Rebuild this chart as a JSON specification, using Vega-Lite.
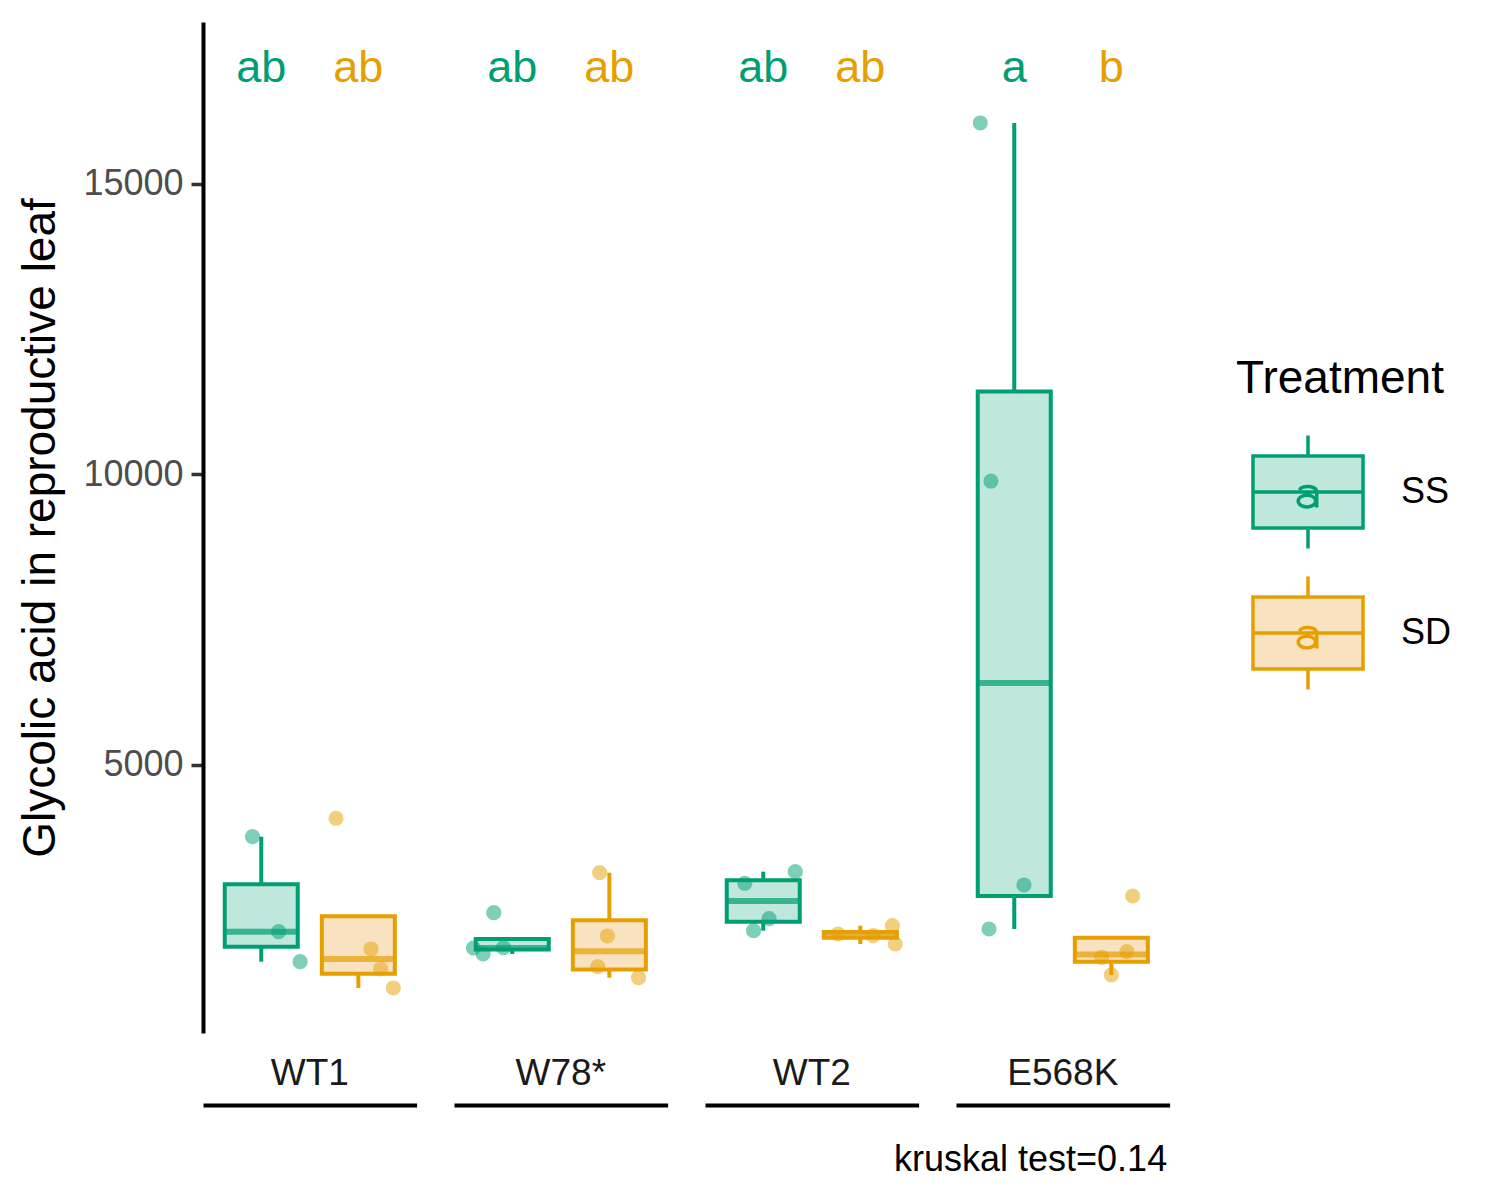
{
  "$schema": "https://vega.github.io/schema/vega-lite/v6.json",
  "padding": {"left": 17, "top": 22, "right": 5, "bottom": 5},
  "background": "white",
  "data": {
    "values": [
      {"Genotype": "WT1", "Treatment": "SS", "kind": "box", "lower": 1615, "q1": 1873, "median": 2131, "q3": 2948, "upper": 3766, "letter": "ab"},
      {"Genotype": "WT1", "Treatment": "SD", "kind": "box", "lower": 1162, "q1": 1407, "median": 1661, "q3": 2395, "upper": 2395, "letter": "ab"},
      {"Genotype": "W78*", "Treatment": "SS", "kind": "box", "lower": 1747, "q1": 1824, "median": 1852, "q3": 2006, "upper": 2006, "letter": "ab"},
      {"Genotype": "W78*", "Treatment": "SD", "kind": "box", "lower": 1339, "q1": 1481, "median": 1793, "q3": 2329, "upper": 3146, "letter": "ab"},
      {"Genotype": "WT2", "Treatment": "SS", "kind": "box", "lower": 2148, "q1": 2303, "median": 2660, "q3": 3014, "upper": 3164, "letter": "ab"},
      {"Genotype": "WT2", "Treatment": "SD", "kind": "box", "lower": 1919, "q1": 2026, "median": 2077, "q3": 2127, "upper": 2234, "letter": "ab"},
      {"Genotype": "E568K", "Treatment": "SS", "kind": "box", "lower": 2177, "q1": 2745, "median": 6411, "q3": 11428, "upper": 16050, "letter": "a"},
      {"Genotype": "E568K", "Treatment": "SD", "kind": "box", "lower": 1386, "q1": 1614, "median": 1738, "q3": 2026, "upper": 2026, "letter": "b"},
      {"Genotype": "WT1", "Treatment": "SS", "kind": "point", "value": 3766, "jitter": -0.09},
      {"Genotype": "WT1", "Treatment": "SS", "kind": "point", "value": 2131, "jitter": 0.18},
      {"Genotype": "WT1", "Treatment": "SS", "kind": "point", "value": 1615, "jitter": 0.40},
      {"Genotype": "WT1", "Treatment": "SD", "kind": "point", "value": 4083, "jitter": -0.23},
      {"Genotype": "WT1", "Treatment": "SD", "kind": "point", "value": 1833, "jitter": 0.13},
      {"Genotype": "WT1", "Treatment": "SD", "kind": "point", "value": 1489, "jitter": 0.23},
      {"Genotype": "WT1", "Treatment": "SD", "kind": "point", "value": 1162, "jitter": 0.36},
      {"Genotype": "W78*", "Treatment": "SS", "kind": "point", "value": 1850, "jitter": -0.40},
      {"Genotype": "W78*", "Treatment": "SS", "kind": "point", "value": 1747, "jitter": -0.30},
      {"Genotype": "W78*", "Treatment": "SS", "kind": "point", "value": 1855, "jitter": -0.09},
      {"Genotype": "W78*", "Treatment": "SS", "kind": "point", "value": 2458, "jitter": -0.19},
      {"Genotype": "W78*", "Treatment": "SD", "kind": "point", "value": 3146, "jitter": -0.10},
      {"Genotype": "W78*", "Treatment": "SD", "kind": "point", "value": 2057, "jitter": -0.02},
      {"Genotype": "W78*", "Treatment": "SD", "kind": "point", "value": 1529, "jitter": -0.12},
      {"Genotype": "W78*", "Treatment": "SD", "kind": "point", "value": 1339, "jitter": 0.30},
      {"Genotype": "WT2", "Treatment": "SS", "kind": "point", "value": 2964, "jitter": -0.19},
      {"Genotype": "WT2", "Treatment": "SS", "kind": "point", "value": 3164, "jitter": 0.33},
      {"Genotype": "WT2", "Treatment": "SS", "kind": "point", "value": 2355, "jitter": 0.06},
      {"Genotype": "WT2", "Treatment": "SS", "kind": "point", "value": 2148, "jitter": -0.10},
      {"Genotype": "WT2", "Treatment": "SD", "kind": "point", "value": 2091, "jitter": -0.23},
      {"Genotype": "WT2", "Treatment": "SD", "kind": "point", "value": 2062, "jitter": 0.13},
      {"Genotype": "WT2", "Treatment": "SD", "kind": "point", "value": 2234, "jitter": 0.33},
      {"Genotype": "WT2", "Treatment": "SD", "kind": "point", "value": 1919, "jitter": 0.36},
      {"Genotype": "E568K", "Treatment": "SS", "kind": "point", "value": 16050, "jitter": -0.35},
      {"Genotype": "E568K", "Treatment": "SS", "kind": "point", "value": 9887, "jitter": -0.24},
      {"Genotype": "E568K", "Treatment": "SS", "kind": "point", "value": 2935, "jitter": 0.10},
      {"Genotype": "E568K", "Treatment": "SS", "kind": "point", "value": 2177, "jitter": -0.26},
      {"Genotype": "E568K", "Treatment": "SD", "kind": "point", "value": 2745, "jitter": 0.22},
      {"Genotype": "E568K", "Treatment": "SD", "kind": "point", "value": 1690, "jitter": -0.10},
      {"Genotype": "E568K", "Treatment": "SD", "kind": "point", "value": 1787, "jitter": 0.16},
      {"Genotype": "E568K", "Treatment": "SD", "kind": "point", "value": 1386, "jitter": 0.00}
    ]
  },
  "title": {
    "text": "kruskal test=0.14",
    "orient": "bottom",
    "anchor": "start",
    "frame": "group",
    "dx": 691,
    "fontSize": 36,
    "fontWeight": "normal",
    "color": "black",
    "offset": 38
  },
  "facet": {
    "column": {
      "field": "Genotype",
      "type": "nominal",
      "sort": ["WT1", "W78*", "WT2", "E568K"],
      "header": {
        "title": null,
        "labelOrient": "bottom",
        "labelFontSize": 37,
        "labelColor": "#1A1A1A",
        "labelPadding": -49
      }
    }
  },
  "spacing": 37,
  "spec": {
    "width": 213.6,
    "height": 1011,
    "encoding": {
      "x": {
        "field": "Treatment",
        "type": "nominal",
        "scale": {"domain": ["SS", "SD"], "paddingInner": 0, "paddingOuter": 0.1},
        "axis": {"labels": false, "ticks": false, "title": null, "domainWidth": 4, "domainColor": "black", "offset": 72}
      }
    },
    "layer": [
      {
        "transform": [{"filter": "datum.kind === 'box'"}],
        "mark": {"type": "rule", "strokeWidth": 4},
        "encoding": {
          "y": {"field": "lower", "type": "quantitative", "title": "Glycolic acid in reproductive leaf",
            "scale": {"domain": [387, 17788], "nice": false, "zero": false},
            "axis": {"values": [5000, 10000, 15000], "format": "d", "grid": false, "domainColor": "black", "domainWidth": 4, "tickColor": "#333333", "tickWidth": 3.5, "tickSize": 12, "labelFontSize": 36, "labelColor": "#4D4D4D", "labelPadding": 8, "titleFontSize": 46, "titleFontWeight": "normal", "titleColor": "black", "titlePadding": 18}},
          "y2": {"field": "upper"},
          "stroke": {"field": "Treatment", "type": "nominal", "scale": {"domain": ["SS", "SD"], "range": ["#009E73", "#E69F00"]}}
        }
      },
      {
        "transform": [{"filter": "datum.kind === 'box'"}],
        "mark": {"type": "bar", "width": 73, "strokeWidth": 4},
        "encoding": {
          "y": {"field": "q1", "type": "quantitative", "title": "Glycolic acid in reproductive leaf"},
          "y2": {"field": "q3"},
          "fill": {"field": "Treatment", "type": "nominal", "scale": {"domain": ["SS", "SD"], "range": ["#BFE7DC", "#F9E2BF"]}},
          "stroke": {"field": "Treatment", "type": "nominal"}
        }
      },
      {
        "transform": [{"filter": "datum.kind === 'box'"}],
        "mark": {"type": "tick", "thickness": 6, "size": 73},
        "encoding": {
          "y": {"field": "median", "type": "quantitative", "title": "Glycolic acid in reproductive leaf"},
          "color": {"field": "Treatment", "type": "nominal", "scale": {"range": ["#E69F00", "#009E73"]}, "legend": null}
        }
      },
      {
        "transform": [{"filter": "datum.kind === 'point'"}],
        "mark": {"type": "circle", "size": 230, "opacity": 0.5},
        "encoding": {
          "xOffset": {"field": "jitter", "type": "quantitative", "scale": {"domain": [-0.5, 0.5]}},
          "y": {"field": "value", "type": "quantitative", "title": "Glycolic acid in reproductive leaf"},
          "color": {"field": "Treatment", "type": "nominal", "legend": null}
        }
      },
      {
        "transform": [{"filter": "datum.kind === 'box'"}],
        "mark": {"type": "text", "fontSize": 45, "baseline": "middle"},
        "encoding": {
          "y": {"datum": 17000},
          "text": {"field": "letter"},
          "color": {"field": "Treatment", "type": "nominal", "legend": null}
        }
      }
    ]
  },
  "config": {
    "font": "Liberation Sans",
    "view": {"stroke": null},
    "legend": {
      "orient": "none",
      "legendX": 1033,
      "legendY": 335,
      "titleFontSize": 46,
      "titleFontWeight": "normal",
      "titleColor": "black",
      "titleLimit": 400,
      "titlePadding": 17,
      "labelFontSize": 36,
      "labelColor": "black",
      "labelOffset": 21,
      "rowPadding": 5,
      "symbolType": "M-0.786,-0.514H0.786V0.514H-0.786Z M0,-0.807V-0.514 M0,0.514V0.807 M-0.786,0H0.786 M-0.12,-0.03C-0.1,-0.1 0.125,-0.1 0.125,0V0.22 M-0.14,0.13A0.125,0.085 0 1,1 0.11,0.13A0.125,0.085 0 1,1 -0.14,0.13",
      "symbolSize": 19600,
      "symbolStrokeWidth": 3.5
    }
  }
}
